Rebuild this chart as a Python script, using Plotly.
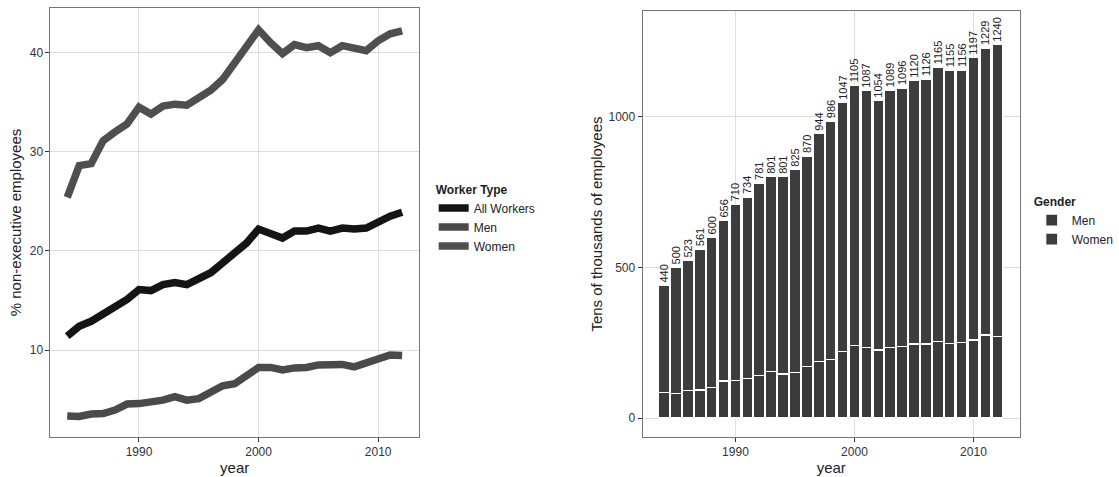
import plotly.graph_objects as go

# ---- data -------------------------------------------------------------
years = list(range(1984, 2013))

# % of non-executive employees by worker type
pct_all = [11.4, 12.4, 12.9, 13.6, 14.3, 15.1, 16.1, 16.0, 16.6, 16.8, 16.6, 17.1,
           17.8, 18.8, 19.7, 20.8, 22.2, 21.7, 21.3, 22.0, 22.0, 22.3, 22.0, 22.3,
           22.2, 22.3, 23.0, 23.5, 23.9]
pct_women = [25.4, 28.6, 28.8, 31.1, 32.0, 32.8, 34.5, 33.8, 34.6, 34.8, 34.7, 35.5,
             36.2, 37.3, 38.9, 40.5, 42.3, 41.0, 39.9, 40.8, 40.5, 40.7, 40.0, 40.7,
             40.4, 40.2, 41.2, 41.9, 42.2]
pct_men = [3.35, 3.3, 3.55, 3.6, 3.95, 4.55, 4.6, 4.7, 4.95, 5.3, 4.95, 5.1,
           5.8, 6.4, 6.6, 7.5, 8.25, 8.25, 8.0, 8.2, 8.25, 8.5, 8.5, 8.55,
           8.3, 8.65, 9.0, 9.5, 9.45]

# tens of thousands of employees
total_emp = [440, 500, 523, 561, 600, 656, 710, 734, 781, 801, 801, 825, 870, 944,
             986, 1047, 1105, 1087, 1054, 1089, 1096, 1120, 1126, 1165, 1155, 1156,
             1197, 1229, 1240]
men_emp = [84, 82, 91, 93, 102, 123, 126, 131, 140, 154, 146, 150, 170, 189, 195,
           220, 242, 235, 226, 234, 237, 246, 246, 254, 248, 250, 259, 276, 270]
women_emp = [t - m for t, m in zip(total_emp, men_emp)]

x_ticks = [1990, 2000, 2010]

# ---- figure -------------------------------------------------------------
W, H = 1119, 477
FONT = "Liberation Sans, Arial, sans-serif"
fig = go.Figure()

line_specs = [("All Workers", pct_all, "#141414"),
              ("Men", pct_men, "#4a4a4a"),
              ("Women", pct_women, "#4f4f4f")]
for name, vals, col in line_specs:
    fig.add_trace(go.Scatter(
        x=years, y=vals, name=name, mode="lines",
        line=dict(color=col, width=7.5), xaxis="x", yaxis="y", legend="legend"))

fig.add_trace(go.Bar(
    x=years, y=men_emp, name="Men", marker=dict(color="#3a3a3a", line=dict(color="white", width=1.2)),
    width=0.9, xaxis="x2", yaxis="y2", legend="legend2"))
fig.add_trace(go.Bar(
    x=years, y=women_emp, name="Women", marker=dict(color="#3d3d3d", line=dict(color="white", width=1.2)),
    width=0.9, xaxis="x2", yaxis="y2", legend="legend2",
    text=[str(t) for t in total_emp], textposition="outside", textangle=-90,
    constraintext="none", cliponaxis=False,
    textfont=dict(size=11, color="#222", family=FONT)))


def px_x(a, b):
    return [a / W, b / W]


def px_y(top, bottom):
    return [1 - bottom / H, 1 - top / H]


axis_common = dict(
    showline=True, linecolor="#777", linewidth=1, mirror=True,
    ticks="outside", ticklen=4, tickcolor="#333", tickwidth=1,
    showgrid=True, gridcolor="#dedede", gridwidth=1, zeroline=False,
    tickfont=dict(size=12, color="#333", family=FONT),
    title_font=dict(size=15, color="#222", family=FONT),
)

fig.update_layout(
    width=W, height=H, margin=dict(l=0, r=0, t=0, b=0),
    plot_bgcolor="white", paper_bgcolor="white",
    font=dict(family=FONT, color="#222"),
    barmode="stack", bargap=0.1,
    xaxis=dict(domain=px_x(51, 423), range=[1982.6, 2013.4], tickvals=x_ticks,
               title=dict(text="year", standoff=2), anchor="y", **axis_common),
    yaxis=dict(domain=px_y(8, 437), range=[1.23, 44.5], tickvals=[10, 20, 30, 40],
               title=dict(text="% non-executive employees", standoff=4), anchor="x", **axis_common),
    xaxis2=dict(domain=px_x(649, 1030), range=[1982.2, 2013.9], tickvals=x_ticks,
                title=dict(text="year", standoff=2), anchor="y2", **axis_common),
    yaxis2=dict(domain=px_y(11, 437), range=[-63, 1352], tickvals=[0, 500, 1000],
                title=dict(text="Tens of thousands of employees", standoff=2), anchor="x2", **axis_common),
    legend=dict(x=438 / W, y=1 - 178 / H, xanchor="left", yanchor="top",
                title=dict(text="<b>Worker Type</b>", font=dict(size=12, family=FONT)),
                font=dict(size=12, family=FONT), itemwidth=30, bgcolor="rgba(0,0,0,0)",
                traceorder="normal"),
    legend2=dict(x=1042 / W, y=1 - 190 / H, xanchor="left", yanchor="top",
                 title=dict(text="<b>Gender</b>", font=dict(size=12, family=FONT)),
                 font=dict(size=12, family=FONT), bgcolor="rgba(0,0,0,0)",
                 traceorder="normal"),
)

fig.write_html("out.html")
